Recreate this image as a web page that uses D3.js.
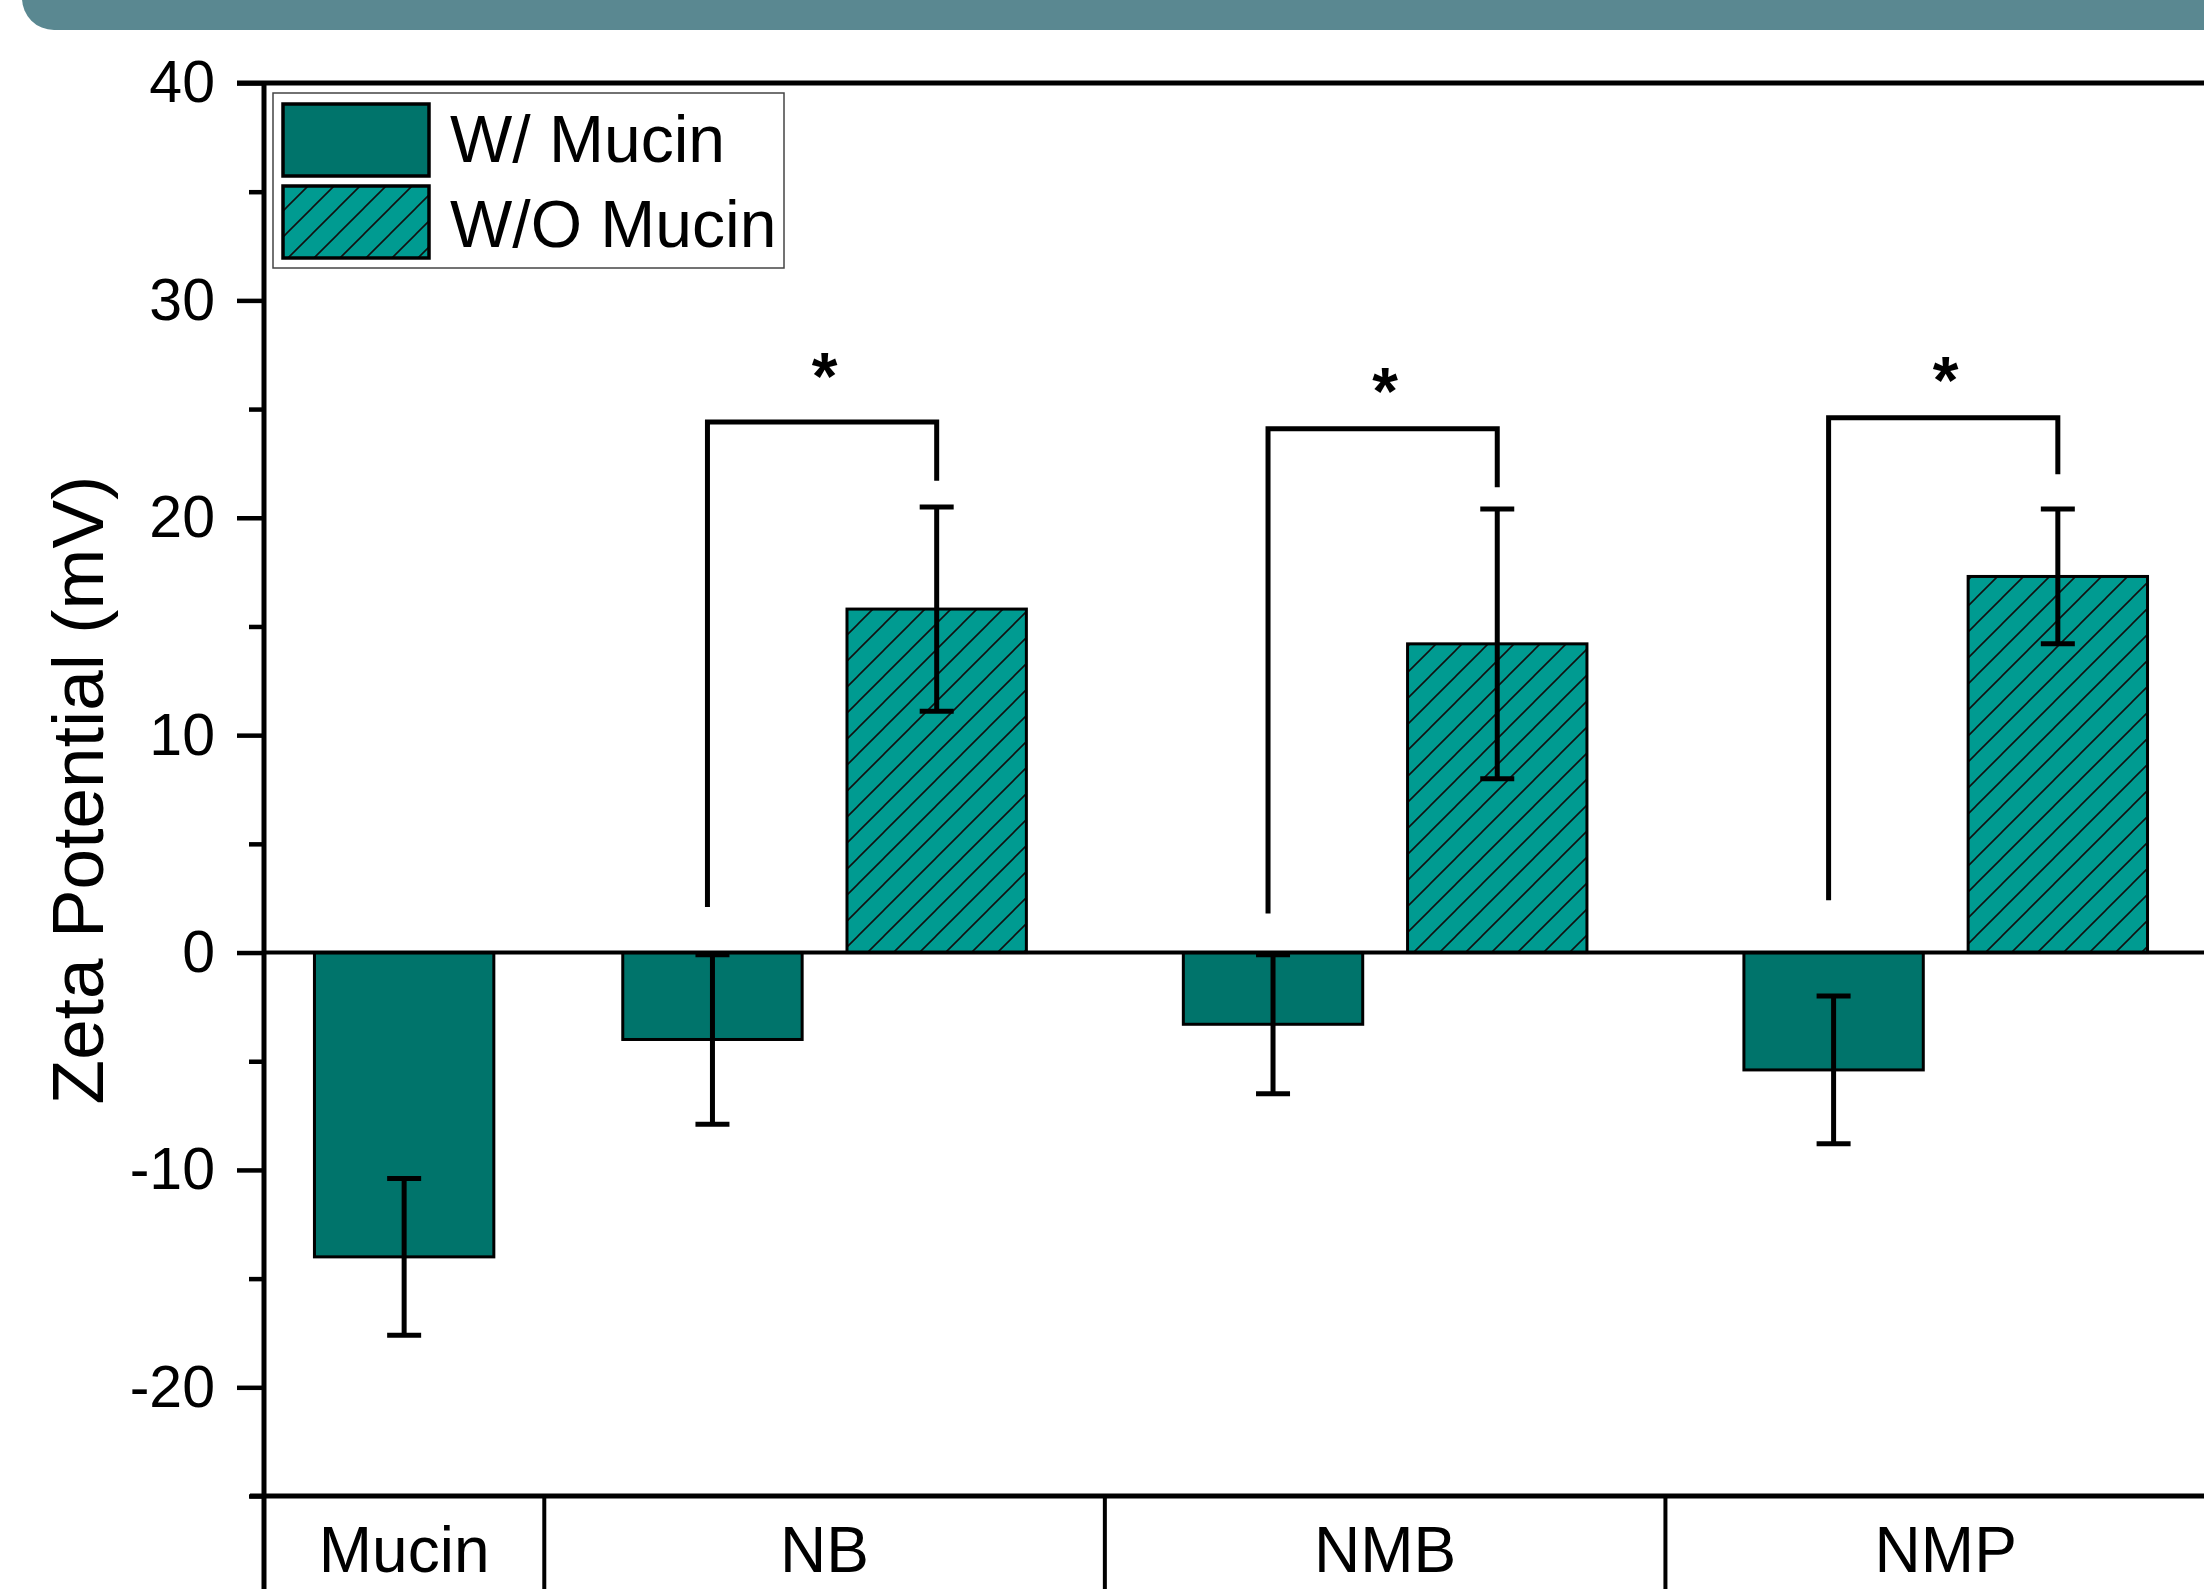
<!DOCTYPE html>
<html>
<head>
<meta charset="utf-8">
<script src="https://cdn.jsdelivr.net/npm/d3@7"></script>
<style>
    body { margin: 0; background: #fff; }
    svg { display: block; font-family: "Liberation Sans", Arial, sans-serif; }
</style>
</head>
<body>
<svg id="chart" width="2204" height="1589"></svg>
<script>
// data
const categories = ['Mucin', 'NB', 'NMB', 'NMP'];
const seriesNames = ['W/ Mucin', 'W/O Mucin'];
const withMucin = [-14.0, -4.0, -3.3, -5.4];
const withMucinErr = [3.6, 3.9, 3.2, 3.4];
const withoutMucin = [null, 15.8, 14.2, 17.3];
const withoutMucinErr = [null, 4.7, 6.2, 3.1];
const yTicks = [-20, -10, 0, 10, 20, 30, 40];
const yMinorTicks = [-25, -15, -5, 5, 15, 25, 35];

// significance brackets
const sigCats = ['NB', 'NMB', 'NMP'];
const sigLeft = [2.1, 1.8, 2.4];
const sigTop = [24.4, 24.1, 24.6];
const sigRight = [21.7, 21.4, 22.0];
const sigStar = [26.9, 26.2, 26.7];

const
    W = 2204,
    H = 1589,
    colW = '#00746b',
    colWo = '#009b91',
    svg = d3.select('#chart');

svg.append('rect').attr('width', W).attr('height', H).attr('fill', '#fff');

// banner at the top
svg.append('rect')
    .attr('x', 22).attr('y', -60)
    .attr('width', W + 100).attr('height', 90)
    .attr('rx', 32)
    .attr('fill', '#5a8891');

// hatch for the W/O series
const defs = svg.append('defs');
const pat = defs.append('pattern')
    .attr('id', 'hatch')
    .attr('patternUnits', 'userSpaceOnUse')
    .attr('width', 26).attr('height', 26);
pat.append('rect').attr('width', 26).attr('height', 26).attr('fill', colWo);
pat.append('path')
    .attr('d', 'M0,26 L26,0 M-2,2 L2,-2 M24,28 L28,24')
    .attr('stroke', '#111').attr('stroke-width', 1.6);

const fills = [colW, 'url(#hatch)'];

// build bar list, one slot per bar
const bars = [], groups = [];
let start = 0;
categories.forEach((c, i) => {
    const vals = [
        {s: 0, v: withMucin[i], e: withMucinErr[i]},
        {s: 1, v: withoutMucin[i], e: withoutMucinErr[i]}
    ].filter(d => d.v != null);
    const n = vals.length;
    vals.forEach((d, j) => {
        d.cat = c;
        d.pos = start + n / 2 + (j - (n - 1) / 2) * 0.8;
        bars.push(d);
    });
    groups.push({cat: c, start: start, end: start + n});
    start += n;
});

const
    x = d3.scaleLinear().domain([0, start]).range([264, 2226]),
    y = d3.scaleLinear().domain([-25, 40]).range([1496, 83]),
    halfW = 0.32;

// bars
svg.append('g').selectAll('rect').data(bars).enter().append('rect')
    .attr('x', d => x(d.pos - halfW))
    .attr('width', d => x(d.pos + halfW) - x(d.pos - halfW))
    .attr('y', d => y(Math.max(0, d.v)))
    .attr('height', d => Math.abs(y(d.v) - y(0)))
    .attr('fill', d => fills[d.s])
    .attr('stroke', '#000')
    .attr('stroke-width', 3);

// zero line
svg.append('line')
    .attr('x1', x(0)).attr('x2', W)
    .attr('y1', y(0)).attr('y2', y(0))
    .attr('stroke', '#000').attr('stroke-width', 4);

// error bars
const eb = svg.append('g').attr('stroke', '#000').attr('stroke-width', 5);
bars.forEach(d => {
    const cx = x(d.pos);
    eb.append('line').attr('x1', cx).attr('x2', cx).attr('y1', y(d.v - d.e)).attr('y2', y(d.v + d.e));
    [d.v - d.e, d.v + d.e].forEach(v => {
        eb.append('line').attr('x1', cx - 17).attr('x2', cx + 17).attr('y1', y(v)).attr('y2', y(v));
    });
});

// significance brackets
const sig = svg.append('g');
sigCats.forEach((c, i) => {
    const
        b0 = bars.find(d => d.cat === c && d.s === 0),
        b1 = bars.find(d => d.cat === c && d.s === 1),
        xl = x(b0.pos) - 5,
        xr = x(b1.pos);
    sig.append('path')
        .attr('d', `M${xl},${y(sigLeft[i])}V${y(sigTop[i])}H${xr}V${y(sigRight[i])}`)
        .attr('fill', 'none').attr('stroke', '#000').attr('stroke-width', 5);
    sig.append('text')
        .attr('x', (x(b0.pos) + xr) / 2)
        .attr('y', y(sigStar[i]) + 31)
        .attr('text-anchor', 'middle')
        .attr('font-size', 66)
        .attr('font-weight', 'bold')
        .text('*');
});

// y axis
const gy = svg.append('g').attr('transform', `translate(${x(0)},0)`);
gy.call(d3.axisLeft(y).tickValues(yTicks).tickSize(27).tickPadding(22).tickFormat(d => String(d)));
gy.call(g => g.select('.domain').remove());
gy.selectAll('.tick line').attr('stroke-width', 4.5);
gy.selectAll('.tick text').attr('font-size', 59).attr('font-family', null).attr('fill', '#000');

const gym = svg.append('g').attr('transform', `translate(${x(0)},0)`);
gym.call(d3.axisLeft(y).tickValues(yMinorTicks).tickSize(15).tickFormat(''));
gym.call(g => g.select('.domain').remove());
gym.selectAll('.tick line').attr('stroke-width', 4.5);

// frame lines
const frame = svg.append('g').attr('stroke', '#000');
frame.append('line').attr('x1', x(0)).attr('x2', x(0)).attr('y1', y(40) - 2).attr('y2', H).attr('stroke-width', 5);
frame.append('line').attr('x1', 237).attr('x2', W).attr('y1', y(40)).attr('y2', y(40)).attr('stroke-width', 5);
frame.append('line').attr('x1', 250).attr('x2', W).attr('y1', y(-25)).attr('y2', y(-25)).attr('stroke-width', 5);

// category table below
groups.forEach(g => {
    frame.append('line')
        .attr('x1', x(g.end)).attr('x2', x(g.end))
        .attr('y1', y(-25)).attr('y2', H)
        .attr('stroke-width', 4);
    svg.append('text')
        .attr('x', x((g.start + g.end) / 2))
        .attr('y', 1572)
        .attr('text-anchor', 'middle')
        .attr('font-size', 64)
        .text(g.cat);
});

// y title
svg.append('text')
    .attr('transform', 'translate(103,790) rotate(-90)')
    .attr('text-anchor', 'middle')
    .attr('font-size', 73)
    .text('Zeta Potential (mV)');

// legend
const lg = svg.append('g');
lg.append('rect')
    .attr('x', 273).attr('y', 93).attr('width', 511).attr('height', 175)
    .attr('fill', '#fff').attr('stroke', '#444').attr('stroke-width', 1.5);
seriesNames.forEach((s, i) => {
    lg.append('rect')
        .attr('x', 283).attr('y', 104 + i * 82)
        .attr('width', 146).attr('height', 72)
        .attr('fill', fills[i]).attr('stroke', '#000').attr('stroke-width', 3.5);
    lg.append('text')
        .attr('x', 450).attr('y', 162 + i * 85)
        .attr('font-size', 66)
        .text(s);
});
</script>
</body>
</html>
